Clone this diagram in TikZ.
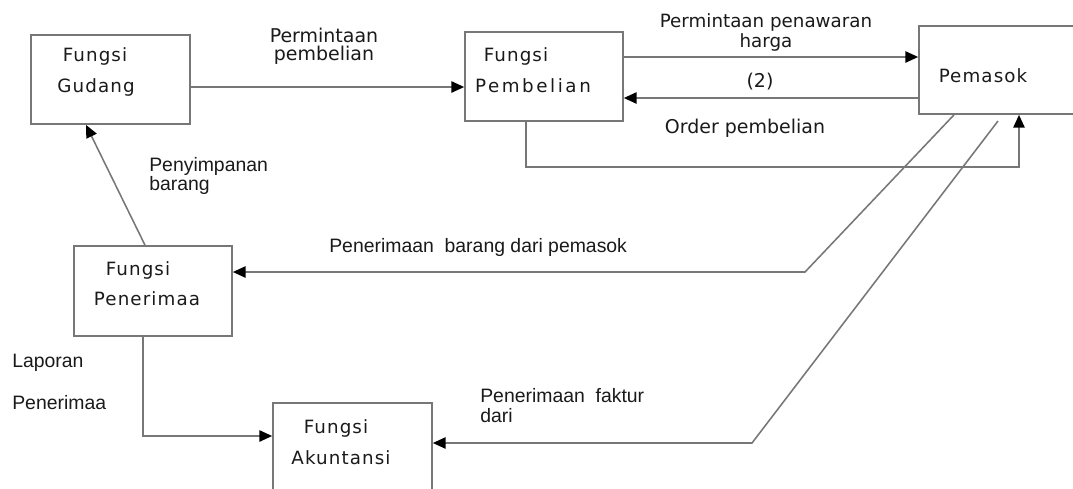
\documentclass[tikz,border=0pt]{standalone}
\usepackage{fontspec}
\usetikzlibrary{arrows.meta}
\newfontfamily\kotakfont{DejaVu Sans}[LetterSpace=6]
\newfontfamily\kotaklebar{DejaVu Sans}[LetterSpace=14]
\newfontfamily\verdanafont{DejaVu Sans}
\newfontfamily\arialfont{Liberation Sans}
\definecolor{garis}{HTML}{777777}
\definecolor{tinta}{HTML}{1A1A1A}
\tikzset{
  kotak/.style={draw=garis, line width=1.2pt, fill=white, rectangle, inner sep=0pt},
  isi/.style={font=\kotakfont\fontsize{13}{15}\selectfont, text=tinta, inner sep=0pt},
  isilebar/.style={font=\kotaklebar\fontsize{13}{15}\selectfont, text=tinta, inner sep=0pt},
  ket/.style={font=\verdanafont\fontsize{13.5}{12.8}\selectfont, text=tinta, inner sep=0pt, align=center},
  keta/.style={font=\arialfont\fontsize{13.8}{12.8}\selectfont, text=tinta, inner sep=0pt, align=left, anchor=west},
  panah/.style={draw=garis, line width=1.1pt, -{Triangle[length=9pt,width=8pt,color=black]}}
}
\begin{document}
\begin{tikzpicture}[x=0.025cm, y=-0.025cm]
                \useasboundingbox (0,0) rectangle (1073,488);
                \clip (0,0) rectangle (1073,488);
                \fill[white] (0,0) rectangle (1073,488);

                \node[kotak, minimum width=3.975cm, minimum height=2.225cm] (gudang) at (110.5,79.5) {};
                \node[kotak, minimum width=3.95cm, minimum height=2.225cm] (pembelian) at (544,76.5) {};
                \node[kotak, minimum width=4.5cm, minimum height=2.2cm] (pemasok) at (1009,70) {};
                \node[kotak, minimum width=3.95cm, minimum height=2.25cm] (penerimaa) at (153,291) {};
                \node[kotak, minimum width=3.975cm, minimum height=2.5cm] (akuntansi) at (352.5,453) {};

                \node[isi] (gudang1) at (95,56) {Fungsi};
                \node[isi] (gudang2) at (96,87) {Gudang};
                \node[isi] (pembelian1) at (516,56) {Fungsi};
                \node[isilebar] (pembelian2) at (533,86) {Pembelian};
                \node[isi] (pemasok1) at (983,76) {Pemasok};
                \node[isi] (penerimaa1) at (138,270) {Fungsi};
                \node[isi] (penerimaa2) at (147,299) {Penerimaa};
                \node[isi] (akuntansi1) at (336,428) {Fungsi};
                \node[isi] (akuntansi2) at (341,458) {Akuntansi};

                \node[ket] (minta) at (324,46) {Permintaan\\pembelian};
                \node[ket, font=\verdanafont\fontsize{13}{14.2}\selectfont] (tawar) at (766,32) {Permintaan penawaran\\harga};
                \node[ket] (dua) at (760,82) {(2)};
                \node[ket] (order) at (745,128) {Order pembelian};
                \node[keta] (simpan) at (149,176) {Penyimpanan\\barang};
                \node[keta] (terima) at (329,247) {Penerimaan\ \ barang dari pemasok};
                \node[keta] (laporan1) at (12,363) {Laporan};
                \node[keta] (laporan2) at (12,403) {Penerimaa};
                \node[keta, font=\arialfont\fontsize{13.8}{14.2}\selectfont] (faktur) at (480,406) {Penerimaan\ \ faktur\\dari};

                \coordinate (tekuk1) at (805,272);
                \coordinate (awal2) at (998,121);
                \coordinate (tekuk2) at (752,443);

                \draw[panah] (gudang.east |- 0,87) -- (pembelian.west |- 0,87);
                \draw[panah] (pembelian.east |- 0,57) -- (pemasok.west |- 0,57);
                \draw[panah] (pemasok.west |- 0,98) -- (pembelian.east |- 0,98);
                \draw[panah] (pembelian.south -| 526,0) -- (526,167) -| (pemasok.south -| 1019,0);
                \draw[panah] (pemasok.south -| 954,0) -- (tekuk1) -- (penerimaa.east |- tekuk1);
                \draw[panah] (awal2) -- (tekuk2) -- (akuntansi.east |- tekuk2);
                \draw[panah] (penerimaa.north -| 145,0) -- (gudang.south -| 86,0);
                \draw[panah] (penerimaa.south -| 143,0) |- (akuntansi.west |- 0,436);
            \end{tikzpicture}
\end{document}
